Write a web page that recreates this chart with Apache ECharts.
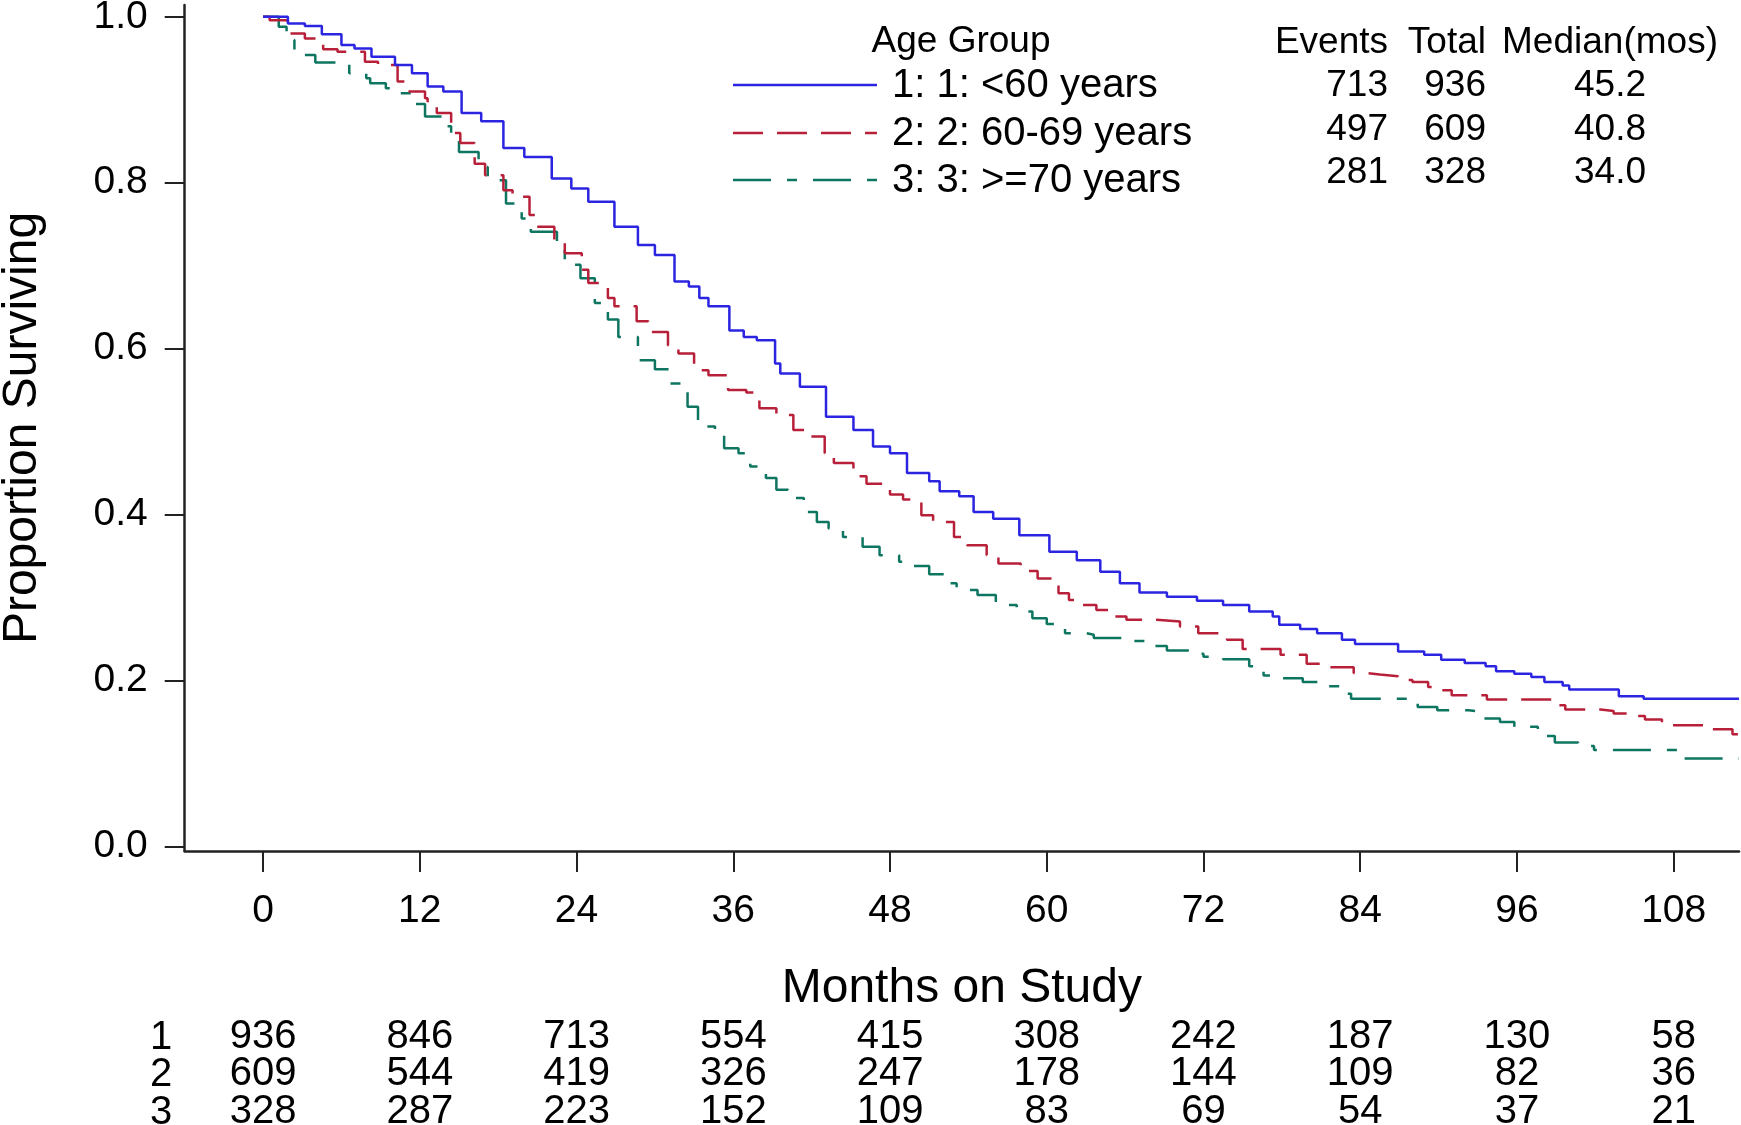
<!DOCTYPE html>
<html>
<head>
<meta charset="utf-8">
<script src="https://cdn.jsdelivr.net/npm/echarts@6/dist/echarts.min.js"></script>
<style>
html,body{margin:0;padding:0;background:#fff;}
#chart{width:1741px;height:1125px;}
</style>
</head>
<body>
<div id="chart"></div>
<script>
// ---- Data ----
const monthsG1 = [0,1.9,3.2,4.5,6.0,7.0,8.3,10.1,11.4,12.6,13.8,15.2,16.7,18.4,20.0,22.1,23.6,24.9,26.9,28.7,30.0,31.5,32.6,33.4,34.1,35.7,36.8,37.8,39.2,39.6,41.1,43.1,45.2,46.7,48.0,49.3,51.0,51.8,53.3,54.4,55.9,57.9,60.2,62.3,64.1,65.6,67.1,69.2,71.5,73.5,75.5,77.3,77.8,79.4,80.7,82.6,83.6,86.9,88.9,90.2,92.0,93.6,94.4,95.8,97.1,98.1,99.5,100.0,103.8,105.7,113];
const survG1   = [1.0,0.992,0.989,0.979,0.966,0.962,0.952,0.942,0.932,0.916,0.910,0.884,0.874,0.842,0.831,0.805,0.793,0.777,0.747,0.725,0.713,0.681,0.675,0.661,0.651,0.622,0.614,0.610,0.582,0.570,0.554,0.518,0.502,0.482,0.474,0.450,0.440,0.428,0.422,0.403,0.395,0.375,0.355,0.345,0.331,0.317,0.306,0.301,0.296,0.291,0.283,0.277,0.267,0.262,0.257,0.249,0.244,0.235,0.231,0.225,0.221,0.217,0.211,0.208,0.204,0.198,0.194,0.189,0.181,0.178,0.178];

const monthsG2 = [0,0.5,1.9,3.2,4.6,5.7,7.8,8.8,10.3,11.0,12.4,12.6,13.3,14.4,15.1,16.2,17.0,18.4,19.1,20.4,20.9,22.3,23.1,24.4,24.9,26.4,26.9,28.6,29.5,31.0,31.8,33.0,34.1,35.6,37.0,38.0,39.3,40.6,41.6,43.0,43.7,45.2,46.2,48.0,49.0,50.4,51.3,52.9,53.9,55.4,56.3,58.0,59.3,60.9,61.7,62.5,63.8,64.7,66.1,68.4,70.2,71.6,73.8,75.0,77.9,79.9,81.0,83.5,84.4,85.5,86.9,88.0,89.2,90.2,91.0,93.7,98.7,99.7,102.4,103.4,104.6,105.8,107.1,110.5,112.5,113];
const survG2   = [1.0,0.996,0.980,0.974,0.961,0.958,0.946,0.942,0.922,0.910,0.902,0.892,0.884,0.860,0.848,0.823,0.809,0.791,0.783,0.761,0.747,0.731,0.715,0.695,0.679,0.661,0.651,0.633,0.620,0.604,0.594,0.574,0.568,0.550,0.547,0.528,0.520,0.502,0.494,0.474,0.462,0.446,0.437,0.424,0.418,0.399,0.391,0.373,0.363,0.351,0.341,0.332,0.323,0.305,0.297,0.291,0.285,0.277,0.273,0.271,0.265,0.257,0.249,0.238,0.231,0.220,0.216,0.209,0.207,0.205,0.2005,0.198,0.192,0.188,0.182,0.177,0.170,0.165,0.163,0.160,0.157,0.153,0.146,0.141,0.135,0.135];

const monthsG3 = [0,1.2,1.8,2.4,3.1,4.0,6.6,7.9,8.2,9.4,10.3,11.6,12.4,13.7,14.4,15.0,16.5,17.2,18.6,19.8,20.5,22.5,23.1,24.3,25.4,26.4,27.2,28.7,30.0,31.1,32.5,33.3,34.6,35.3,36.4,37.3,38.5,39.3,40.2,41.4,42.4,43.3,44.4,45.9,47.2,48.7,49.8,51.0,52.5,53.1,54.7,56.1,57.7,58.9,60.0,61.4,63.0,63.6,66.1,67.7,69.2,70.9,72.0,73.5,75.5,76.6,77.8,79.6,81.5,82.6,83.3,87.8,88.4,89.9,92.3,93.4,94.7,95.8,97.6,98.9,100.7,101.9,108.3,113];
const survG3   = [1.0,0.988,0.972,0.957,0.954,0.945,0.932,0.926,0.920,0.914,0.908,0.895,0.880,0.868,0.852,0.837,0.819,0.803,0.775,0.757,0.741,0.719,0.701,0.685,0.655,0.635,0.614,0.586,0.575,0.558,0.530,0.506,0.496,0.480,0.474,0.458,0.444,0.430,0.420,0.403,0.391,0.383,0.373,0.361,0.351,0.343,0.338,0.328,0.317,0.309,0.303,0.291,0.283,0.275,0.268,0.257,0.255,0.251,0.2475,0.2415,0.236,0.232,0.2286,0.2255,0.217,0.206,0.2025,0.198,0.193,0.184,0.178,0.174,0.168,0.164,0.162,0.154,0.150,0.144,0.133,0.125,0.121,0.116,0.106,0.106];

const xTicks = [0,12,24,36,48,60,72,84,96,108];
const yTicks = [0,0.2,0.4,0.6,0.8,1.0];
const riskG1 = [936,846,713,554,415,308,242,187,130,58];
const riskG2 = [609,544,419,326,247,178,144,109,82,36];
const riskG3 = [328,287,223,152,109,83,69,54,37,21];
const riskRowLabels = ['1','2','3'];

const legendTitle = 'Age Group';
const groupLabels = ['1: 1: <60 years','2: 2: 60-69 years','3: 3: >=70 years'];
const tableHeaders = ['Events','Total','Median(mos)'];
const eventsN = [713,497,281];
const totalN = [936,609,328];
const medianMos = ['45.2','40.8','34.0'];

const colors = ['#2b24e0','#b8203a','#0e7560'];
const dashes = ['solid',[30,14],[38,16,10,16]];

// ---- Chart ----
const FONT = '"Liberation Sans", Arial, Helvetica, sans-serif';
const zip = (a,b) => a.map((v,i)=>[v,b[i]]);
const chart = echarts.init(document.getElementById('chart'), null, {renderer:'canvas'});

const X_MIN = -6, X_MAX = 113;
function riskAxis(arr, offset){
  return {
    type:'value', gridIndex:0, position:'bottom', offset:offset,
    min:X_MIN, max:X_MAX,
    axisLine:{show:false}, axisTick:{show:false}, splitLine:{show:false},
    axisLabel:{
      customValues:xTicks, margin:0, verticalAlign:'middle',
      fontFamily:FONT, fontSize:40, color:'#000',
      formatter:(v)=>{ const i = xTicks.indexOf(Math.round(v)); return i>=0 ? String(arr[i]) : ''; }
    }
  };
}

const seriesData = [zip(monthsG1,survG1), zip(monthsG2,survG2), zip(monthsG3,survG3)];

const graphics = [];
const riskRowY = [1038,1075,1113];
riskRowLabels.forEach((t,i)=>{
  graphics.push({type:'text', x:161, y:riskRowY[i], style:{text:t, font:'40px '+FONT, fill:'#000', textAlign:'center', textVerticalAlign:'middle'}});
});
graphics.push({type:'text', x:961, y:42, style:{text:legendTitle, font:'37px '+FONT, fill:'#000', textAlign:'center', textVerticalAlign:'middle'}});
graphics.push({type:'text', x:1388, y:43, style:{text:tableHeaders[0], font:'37px '+FONT, fill:'#000', textAlign:'right', textVerticalAlign:'middle'}});
graphics.push({type:'text', x:1486, y:43, style:{text:tableHeaders[1], font:'37px '+FONT, fill:'#000', textAlign:'right', textVerticalAlign:'middle'}});
graphics.push({type:'text', x:1610, y:43, style:{text:tableHeaders[2], font:'37px '+FONT, fill:'#000', textAlign:'center', textVerticalAlign:'middle'}});
const legLineY = [85,133,180];
const legRowY = [86,134,181];
const tabRowY = [86,130,173];
groupLabels.forEach((lab,i)=>{
  graphics.push({type:'line', shape:{x1:733,y1:legLineY[i],x2:877,y2:legLineY[i]},
    style:{stroke:colors[i], lineWidth:2.5, lineDash: i===0 ? null : dashes[i]}});
  graphics.push({type:'text', x:892, y:legRowY[i], style:{text:lab, font:'40px '+FONT, fill:'#000', textAlign:'left', textVerticalAlign:'middle'}});
  graphics.push({type:'text', x:1388, y:tabRowY[i], style:{text:String(eventsN[i]), font:'37px '+FONT, fill:'#000', textAlign:'right', textVerticalAlign:'middle'}});
  graphics.push({type:'text', x:1486, y:tabRowY[i], style:{text:String(totalN[i]), font:'37px '+FONT, fill:'#000', textAlign:'right', textVerticalAlign:'middle'}});
  graphics.push({type:'text', x:1610, y:tabRowY[i], style:{text:medianMos[i], font:'37px '+FONT, fill:'#000', textAlign:'center', textVerticalAlign:'middle'}});
});

const option = {
  animation:false,
  backgroundColor:'#fff',
  textStyle:{fontFamily:FONT},
  grid:{left:184.7, right:2, top:5, bottom:274, containLabel:false, outerBoundsMode:'none'},
  xAxis:[
    {
      type:'value', gridIndex:0, position:'bottom', min:X_MIN, max:X_MAX,
      name:'Months on Study', nameLocation:'middle', nameGap:114,
      nameTextStyle:{fontFamily:FONT, fontSize:48, color:'#000'},
      axisLine:{show:true, onZero:false, lineStyle:{color:'#222', width:2.5}},
      axisTick:{show:true, customValues:xTicks, length:21, lineStyle:{color:'#222', width:2}},
      axisLabel:{customValues:xTicks, margin:60, verticalAlign:'middle', fontFamily:FONT, fontSize:39, color:'#000',
        formatter:(v)=>String(Math.round(v))},
      splitLine:{show:false}
    },
    riskAxis(riskG1, 186),
    riskAxis(riskG2, 223),
    riskAxis(riskG3, 261)
  ],
  yAxis:{
    type:'value', min:-0.00567, max:1.0143,
    name:'Proportion Surviving', nameLocation:'middle', nameGap:138,
    nameTextStyle:{fontFamily:FONT, fontSize:48, color:'#000'},
    axisLine:{show:true, onZero:false, lineStyle:{color:'#222', width:2.5}},
    axisTick:{show:true, customValues:yTicks, length:20, lineStyle:{color:'#222', width:2}},
    axisLabel:{customValues:yTicks, margin:37, fontFamily:FONT, fontSize:39, color:'#000',
      formatter:(v)=>v.toFixed(1)},
    splitLine:{show:false}
  },
  series:[0,1,2].map(i=>({
    type:'line', name:groupLabels[i], step:'end', showSymbol:false, symbol:'none',
    data:seriesData[i], xAxisIndex:0, yAxisIndex:0,
    lineStyle:{color:colors[i], width:2.5, type:dashes[i]},
    z: 10 - i
  })),
  graphic: graphics
};
chart.setOption(option);
</script>
</body>
</html>
